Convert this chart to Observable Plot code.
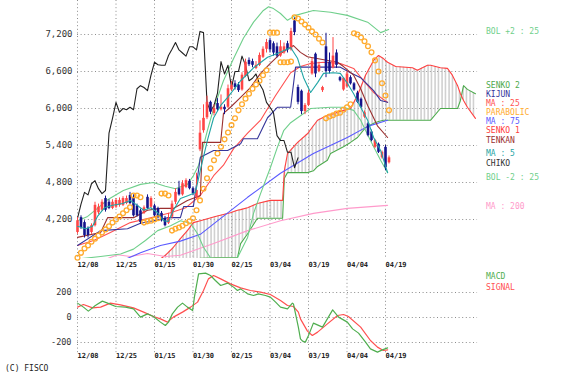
<!DOCTYPE html>
<html><head><meta charset="utf-8">
<script src="https://cdn.jsdelivr.net/npm/d3@7"></script>
<script src="https://cdn.jsdelivr.net/npm/@observablehq/plot@0.6"></script>
<style>
html,body{margin:0;padding:0;background:#fff;}
#wrap{position:relative;width:566px;height:377px;overflow:hidden;font-family:"DejaVu Sans Mono",monospace;}
#wrap svg{display:block;}
.lg{position:absolute;left:486px;font-size:8px;line-height:8px;white-space:pre;margin-top:-4px;}
#cap{position:absolute;left:5px;top:364px;font-size:8px;line-height:9px;color:#222;}
</style></head><body>
<div id="wrap">
<div id="main"></div><div id="macd"></div>
<div class="lg" style="top:32px;color:#6fcf8b">BOL +2 : 25</div>
<div class="lg" style="top:86px;color:#4daa4d">SENKO 2</div>
<div class="lg" style="top:95px;color:#35359a">KIJUN</div>
<div class="lg" style="top:104px;color:#ff5050">MA : 25</div>
<div class="lg" style="top:113px;color:#ffab2e">PARABOLIC</div>
<div class="lg" style="top:122px;color:#5a5aff">MA : 75</div>
<div class="lg" style="top:131px;color:#ff4040">SENKO 1</div>
<div class="lg" style="top:141px;color:#9b3030">TENKAN</div>
<div class="lg" style="top:154px;color:#1fa5a5">MA : 5</div>
<div class="lg" style="top:164px;color:#333">CHIKO</div>
<div class="lg" style="top:178px;color:#6fcf8b">BOL -2 : 25</div>
<div class="lg" style="top:207px;color:#ff9acb">MA : 200</div>
<div class="lg" style="top:277px;color:#4fae4f">MACD</div>
<div class="lg" style="top:288px;color:#ff5050">SIGNAL</div>
<div id="cap">(C) FISCO</div>
</div>
<script>
// ---- tick labels ----
const dates = ["12/08","12/25","01/15","01/30","02/15","03/04","03/19","04/04","04/19"];
const dateIdx = [0,11,22,33,44,55,66,77,88];
const priceTicks = [4200,4800,5400,6000,6600,7200];
const macdTicks = [-200,0,200];

// ---- daily candles (bar index 0..89) ----
const open = [3990,4230,4150,4050,3990,4100,4310,4350,4540,4480, 4380,4400,4430,4430,4460,4590,4560,4420,4340,4300,
  4560,4400,4420,4380,4300,4220,4140,4240,4480,4700, 4600,4720,4820,4700,4560,5330,5640,5850,6100,5920,
  6080,5980,6020,6020,6300,6400,6380,6300,6520,6780, 6760,6650,6700,6830,6960,7100,7050,7000,6850,6900,
  7050,6950,7420,6340,6280,5950,6050,6560,6880,6600, 6290,7000,6750,6660,6900,6500,6300,6350,6500,6400,
  6250,6150,5860,5750,5620,5370,5420,5200,5370,5120];
const high = [4230,4260,4180,4080,4130,4480,4450,4520,4580,4520, 4520,4540,4550,4570,4580,4640,4600,4450,4370,4420,
  4600,4570,4450,4400,4330,4250,4300,4500,4700,4820, 4830,4860,4850,4730,4950,5800,6060,6200,6120,6060,
  6160,6220,6060,6380,6440,6450,6420,6580,6800,6820, 6800,6760,6900,7000,7120,7140,7080,7060,7100,7060,
  7090,7300,7470,6380,6300,6080,6300,6820,6900,6750, 6360,7220,6900,7150,6950,6520,6500,6600,6530,6420,
  6280,6170,5960,5770,5650,5500,5440,5310,5400,5230];
const low = [3960,4040,3900,3900,3960,4080,4280,4330,4320,4360, 4360,4380,4400,4410,4440,4440,4240,4240,4120,4280,
  4360,4380,4240,4210,4160,4080,4120,4210,4440,4580, 4580,4700,4680,4590,4540,5300,5600,5820,5900,5880,
  5950,5960,5900,6000,6280,6300,6260,6280,6500,6680, 6660,6630,6680,6810,6900,6900,6850,6820,6830,6880,
  6900,6930,7180,6060,5900,5900,6030,6540,6500,6580, 6260,6500,6560,6640,6650,6430,6280,6330,6380,6280,
  6080,6000,5840,5540,5460,5350,5270,5180,4990,5100];
const close = [4180,4070,3940,3940,4100,4430,4400,4480,4350,4380, 4480,4510,4510,4540,4540,4460,4260,4260,4150,4390,
  4380,4540,4260,4230,4180,4100,4220,4450,4640,4600, 4780,4830,4700,4620,4670,5600,5840,6100,5940,6000,
  5980,6020,5980,6320,6370,6340,6290,6540,6750,6710, 6700,6700,6860,6960,7070,6950,6900,6850,7000,7000,
  6950,7250,7230,6100,5950,6050,6250,6760,6560,6700, 6340,6600,6600,6850,6700,6450,6490,6560,6400,6300,
  6100,6020,5930,5560,5480,5480,5290,5290,5040,5200];

// ---- parabolic SAR, one per bar ----
const sarVal = [3580,3660,3730,3780,3840,3890,3940,3990,4040,4090, 4150,4200,4250,4300,4350,4400,4590,4590,4560,4150,
  4170,4180,4200,4220,4620,4620,4590,4020,4050,4070, 4100,4140,4170,4220,4350,4510,4700,4870,5030,5160,
  5270,5380,5500,5610,5730,5840,5970,6070,6160,6240, 6320,6390,6450,6540,6620,7230,7230,7230,6750,6750,
  6750,6760,7480,7460,7410,7360,7310,7250,7200,7130, 7070,5840,5870,5890,5920,5930,5980,6020,6070,7220,
  7200,7150,7090,7010,6910,6780,6600,6410,6210,5970];

// ---- indicator lines (bar index, price) ----
const bolUpX = [0,2.9,5.7,8.6,13.1,18,21.7,25.1,28,31.4,33.1,34.6,37.1,38.9,41.7,44.6,47.4,50.3,53.1,54.6,56,58,60,62.3,67.4,72.3,77.1,82.9,86.6,88.9];
const bolUpY = [4180,4250,4380,4520,4670,4770,4800,4740,4700,4770,4910,5080,5640,6000,6450,6810,7140,7400,7590,7650,7620,7540,7430,7510,7590,7560,7510,7400,7230,7280];
const bolLoX = [0,6.6,12.3,16,19.4,22.9,26.6,29.4,32.3,34.3,36,38,39.7,43.7,45.7,48.6,50.3,52.3,55.1,57.1,58.9,60.9,62.9,66.6,72.3,76,78.9,80.9,83.7,86.6,88.6];
const bolLoY = [3560,3600,3640,3720,3860,4020,4100,4180,4140,3970,3750,3580,3410,3410,3580,3910,4300,4620,5040,5370,5640,5770,5850,6000,6020,6020,5970,5810,5480,5160,4960];
const ma5X = [0,2.3,4.3,5.7,7.7,10,12.9,15.1,17.1,18.9,20.9,22.9,24.6,26,27.4,29.4,31.7,33.7,35.1,37.1,38.9,40.9,42.9,46.6,50.3,54.3,57.1,60.9,62.9,64.6,66.6,68.6,70.3,73.1,75.1,77.1,78.9,80.9,82.9,84.6,86.6,88.6];
const ma5Y = [4090,4050,4090,4250,4390,4430,4460,4510,4430,4350,4390,4310,4180,4170,4350,4540,4590,4640,5000,5480,5850,6050,6180,6450,6660,6830,6890,6990,6810,6500,6260,6420,6570,6580,6570,6410,6240,6020,5810,5530,5320,4960];
const ma25X = [0,4.6,9.4,15.1,20.9,26.6,30.9,35.1,38.9,41.7,44.6,48.6,52.3,56.6,60.9,63.7,66.6,70.3,75.1,78.9,81.7,84.6,88.6];
const ma25Y = [3780,3860,3990,4150,4230,4310,4390,4590,4910,5080,5350,5600,5810,6210,6580,6680,6730,6750,6730,6650,6450,6260,6100];
const ma75X = [8,11.4,18,23.7,29.4,35.1,38.9,48.6,58,67.4,77.1,82.9,88.6];
const ma75Y = [3410,3500,3660,3780,3850,3960,4130,4560,4950,5270,5530,5710,5810];
const ma200X = [7.4,11.4,15.1,20,25.1,29.4,38.9,48.6,58,67.4,77.1,88.6];
const ma200Y = [3540,3630,3600,3650,3600,3620,3810,4020,4180,4300,4380,4430];
const tenkanX = [0,6.6,8.6,16,20,23.7,27.4,31.4,35.1,35.7,40.9,41.7,43.7,46.6,49.4,52.3,55.1,58,61.7,63.7,65.7,74.3,76,78.9,80.9,82.9,85.7,88.6];
const tenkanY = [3910,3990,4230,4230,4350,4380,4380,4510,4590,5450,5450,5920,6020,6180,6340,6570,6730,6890,7020,6910,6840,6750,6680,6540,6320,6050,5720,5530];
const kijunX = [0,6.6,14.3,18,21.7,25.7,29.4,30.3,33.1,35.1,38.9,42.9,46.6,47.4,51.4,54.3,57.1,60.9,62.3,64.6,75.1,78,80.9,84.6,86.6,88.6];
const kijunY = [3780,4020,4050,4140,4180,4230,4230,4410,4410,5210,5320,5320,5430,5510,5510,5850,6020,6020,6670,6670,6670,6580,6500,6290,6130,6100];
const cloudX = [22.3,25.1,27.4,29.4,31.4,33.1,35.1,39.4,43.7,45.7,46.6,48.6,51.4,55.1,58.6,59.1,60,62.9,65.7,67.4,68.6,71.4,72.3,76,78,80,82.3,84.6,86,87.4,88.6,90.9,95.7,97.1,100,100.9,103.7,105.7,107.1,108.6,109.4,110.3,111.4,113.7];
const senko1 = [3500,3620,3750,3890,4020,4150,4180,4250,4310,4350,4360,4390,4460,4510,4510,4990,5270,5450,5590,5720,5810,5890,5900,5970,6000,6210,6540,6780,6860,6810,6750,6680,6660,6620,6700,6700,6660,6650,6540,6370,6240,6130,6020,5840];
const senko2 = [3370,3440,3490,3500,3540,3550,3570,3580,3580,3580,3810,3970,4220,4220,4220,4870,4960,4960,4960,4990,5060,5160,5270,5380,5450,5530,5690,5760,5790,5810,5810,5810,5810,5810,5810,5810,6000,6000,6000,6000,6130,6370,6310,6240];

// ---- MACD panel ----
const macdX = [0,1.7,3.1,5.1,7.1,8.6,10.9,13.7,16,18,20,21.7,23.7,25.1,26,27.1,28.6,30,31.4,32.9,33.4,34.6,36.6,38,39.4,40.9,42.9,44.6,45.7,46.6,48.6,50.3,51.7,53.7,55.1,56.6,58,60,61.4,61.7,63.1,63.7,64.3,65.1,66,67.4,70,72.9,74.6,77.1,78.6,80.3,82.3,83.7,85.7,87.1,88.6];
const macdY = [115,83,51,96,131,115,88,83,69,3,29,8,-37,-64,-37,29,83,115,83,56,163,349,355,336,296,256,275,243,216,229,189,176,189,176,163,123,83,69,115,109,-77,-171,-189,-197,-144,-45,-77,61,3,-37,-91,-125,-197,-251,-277,-259,-243];
const sigX = [0,1.7,4.3,6.6,9.4,12.3,16,18.9,21.7,23.7,25.7,27.4,30,32.3,34.3,36,37.4,38.9,40.9,43.7,46.6,49.4,52.3,55.1,58,60,61.7,63.1,63.7,65.7,67.1,68.6,71.4,74.3,76,77.4,80.9,83.7,85.7,87.4,88.6];
const sigY = [83,104,77,83,115,101,77,43,8,-11,-37,3,43,83,123,216,309,336,309,269,237,216,203,184,136,96,88,43,-11,-109,-144,-117,-51,16,24,8,-77,-184,-237,-264,-259];

// ---- styles ----
const C = {up:"#ff4545", down:"#14148c", bol:"#6fcf8b", s2:"#4daa4d", s1:"#ff4040", kijun:"#35359a",
  ma25:"#ff5050", sar:"#ffab2e", ma75:"#5a5aff", tenkan:"#9b3030", chiko:"#222", ma5:"#1fa5a5", ma200:"#ff9acb",
  macd:"#4fae4f", signal:"#ff5050", grid:"#8c8c8c"};
const xDomain = [-8/7, 806/7];
const grid = {stroke:C.grid, strokeDasharray:"1,2.6", strokeWidth:1};
const gridEnd = cloudX[cloudX.length-1] + 0.6;
const font = "DejaVu Sans Mono, monospace";

const pts = (xs, ys) => xs.map((x,k)=>({x, y: ys[k]}));
const ln = (data, stroke, w=1.1) => Plot.line(data, {x:"x", y:"y", stroke, strokeWidth:w, clip:true});
const bars = close.map((c,i)=>({i, o:open[i], h:high[i], l:low[i], c, col: c>=open[i] ? C.up : C.down}));
const chiko = close.map((c,i)=>({x:i-26, y:c})).filter(d=>d.x>=0);
const cloud = cloudX.map((x,k)=>({x, s1:senko1[k], s2:senko2[k]}));
const sar = sarVal.map((v,i)=>({x:i, y:v}));

const main = Plot.plot({
  width:566, height:272, marginLeft:73, marginRight:86, marginTop:0, marginBottom:14,
  style:{background:"#fff", fontFamily:font},
  x:{domain:xDomain, axis:null},
  y:{domain:[3568,7751], axis:null},
  color:{type:"identity"},
  marks:[
    Plot.ruleY(priceTicks, {y:d=>d, x1:dateIdx[0], x2:gridEnd, ...grid}),
    Plot.ruleX(dateIdx, {x:d=>d, ...grid}),
    Plot.areaY(cloud, {x:"x", y1:"s2", y2:"s1", fill:"url(#hatch)", clip:true}),
    Plot.line(cloud, {x:"x", y:"s2", stroke:C.s2, strokeWidth:1.1, clip:true}),
    Plot.line(cloud, {x:"x", y:"s1", stroke:C.s1, strokeWidth:1.1, clip:true}),
    ln(pts(ma200X, ma200Y), C.ma200),
    ln(pts(ma75X, ma75Y), C.ma75),
    ln(pts(bolUpX, bolUpY), C.bol),
    ln(pts(bolLoX, bolLoY), C.bol),
    ln(pts(ma25X, ma25Y), C.ma25),
    ln(pts(kijunX, kijunY), C.kijun),
    ln(pts(tenkanX, tenkanY), C.tenkan),
    ln(chiko, C.chiko),
    Plot.ruleX(bars, {x:"i", y1:"l", y2:"h", stroke:"col", strokeWidth:1}),
    Plot.ruleX(bars, {x:"i", y1:"o", y2:"c", stroke:"col", strokeWidth:2.6}),
    ln(pts(ma5X, ma5Y), C.ma5),
    Plot.dot(sar, {x:"x", y:"y", r:2.4, stroke:C.sar, strokeWidth:1.3, fill:"none"}),
    Plot.text(priceTicks, {y:d=>d, text:d=>d3.format(",")(d), frameAnchor:"left", dx:-1, textAnchor:"end", fontSize:9, fill:"#333", fontFamily:font}),
    Plot.text(dateIdx, {x:d=>d, text:(d,i)=>dates[i], frameAnchor:"bottom", dy:8, textAnchor:"start", fontSize:7, fontWeight:"bold", fill:"#222", fontFamily:font})
  ]
});
const mainSvg = main.tagName.toLowerCase() === "svg" ? main : main.querySelector("svg");
const pat = d3.select(mainSvg).insert("defs", ":first-child").append("pattern")
  .attr("id","hatch").attr("patternUnits","userSpaceOnUse").attr("width",3.5).attr("height",8);
pat.append("line").attr("x1",1).attr("x2",1).attr("y1",0).attr("y2",8).attr("stroke","#b4b4b4").attr("stroke-width",1);
document.getElementById("main").appendChild(main);

const macd = Plot.plot({
  width:566, height:92, marginLeft:73, marginRight:86, marginTop:0, marginBottom:11,
  style:{background:"#fff", fontFamily:font},
  x:{domain:xDomain, axis:null},
  y:{domain:[-288,360], axis:null},
  marks:[
    Plot.ruleY(macdTicks, {y:d=>d, x1:dateIdx[0], x2:gridEnd, ...grid}),
    Plot.ruleX(dateIdx, {x:d=>d, ...grid}),
    Plot.line(pts(sigX, sigY), {x:"x", y:"y", stroke:C.signal, strokeWidth:1.2}),
    Plot.line(pts(macdX, macdY), {x:"x", y:"y", stroke:C.macd, strokeWidth:1.2}),
    Plot.text(macdTicks, {y:d=>d, text:d=>String(d), frameAnchor:"left", dx:-2, textAnchor:"end", fontSize:8.5, fill:"#333", fontFamily:font}),
    Plot.text(dateIdx, {x:d=>d, text:(d,i)=>dates[i], frameAnchor:"bottom", dy:4, textAnchor:"start", fontSize:7, fontWeight:"bold", fill:"#222", fontFamily:font})
  ]
});
document.getElementById("macd").appendChild(macd);
</script>
</body></html>
